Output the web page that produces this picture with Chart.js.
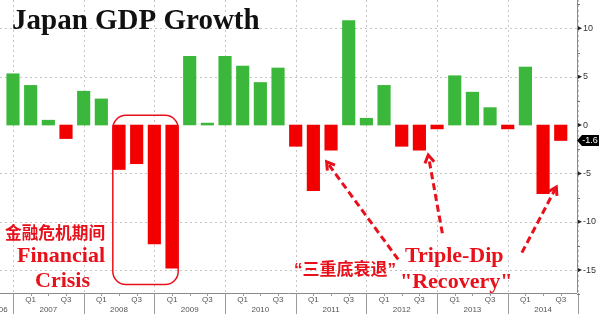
<!DOCTYPE html>
<html>
<head>
<meta charset="utf-8">
<script src="https://cdn.jsdelivr.net/npm/chart.js@4.4.1/dist/chart.umd.min.js"></script>
<style>
html, body { margin: 0; padding: 0; background: #fff; }
#wrap { width: 600px; height: 314px; position: relative; }
</style>
</head>
<body>
<div id="wrap"><canvas id="chart"></canvas></div>
<script>
// Japan real GDP, q/q annualised %, 2006 Q4 .. 2014 Q3
const quarterLabels = [
  '2006 Q4',
  '2007 Q1', '2007 Q2', '2007 Q3', '2007 Q4',
  '2008 Q1', '2008 Q2', '2008 Q3', '2008 Q4',
  '2009 Q1', '2009 Q2', '2009 Q3', '2009 Q4',
  '2010 Q1', '2010 Q2', '2010 Q3', '2010 Q4',
  '2011 Q1', '2011 Q2', '2011 Q3', '2011 Q4',
  '2012 Q1', '2012 Q2', '2012 Q3', '2012 Q4',
  '2013 Q1', '2013 Q2', '2013 Q3', '2013 Q4',
  '2014 Q1', '2014 Q2', '2014 Q3'
];
const gdpGrowth = [
  5.3,
  4.1, 0.5, -1.4, 3.5,
  2.7, -4.6, -4.0, -12.3,
  -14.8, 7.1, 0.2, 7.1,
  6.1, 4.4, 5.9, -2.2,
  -6.8, -2.6, 10.8, 0.7,
  4.1, -2.2, -2.6, -0.4,
  5.1, 3.4, 1.8, -0.4,
  6.0, -7.1, -1.6
];
const yearLabels = ['2006', '2007', '2008', '2009', '2010', '2011', '2012', '2013', '2014'];
const quarterTickLabels = ['Q1', 'Q3'];
const yTicks = [-15, -10, -5, 0, 5, 10];

const GREEN = '#3bb83b';
const RED = '#f20000';
const TXT_RED = '#e8101a';

const dataset = gdpGrowth.map((v, i) => ({ x: i, y: v }));

function dashedArrow(ctx, x0, y0, x1, y1) {
  ctx.save();
  ctx.strokeStyle = TXT_RED;
  ctx.lineWidth = 3;
  ctx.setLineDash([7, 4]);
  const ang = Math.atan2(y1 - y0, x1 - x0);
  ctx.beginPath();
  ctx.moveTo(x0, y0);
  ctx.lineTo(x1 - 3 * Math.cos(ang), y1 - 3 * Math.sin(ang));
  ctx.stroke();
  ctx.setLineDash([]);
  const h = 9;
  ctx.lineJoin = 'miter';
  ctx.beginPath();
  ctx.moveTo(x1 - h * Math.cos(ang - 0.55), y1 - h * Math.sin(ang - 0.55));
  ctx.lineTo(x1, y1);
  ctx.lineTo(x1 - h * Math.cos(ang + 0.55), y1 - h * Math.sin(ang + 0.55));
  ctx.stroke();
  ctx.restore();
}

//grid + axes + annotations
const decor = {
  id: 'decor',
  beforeDatasetsDraw(chart) {
    const { ctx, chartArea: a, scales: { x, y } } = chart;
    ctx.save();
    ctx.strokeStyle = '#c6c6c6';
    ctx.lineWidth = 1;
    ctx.setLineDash([2, 3]);
    for (let i = 0; i <= 32; i += 4) {
      const px = Math.round(x.getPixelForValue(i)) + 0.5;
      ctx.beginPath(); ctx.moveTo(px, a.top); ctx.lineTo(px, a.bottom); ctx.stroke();
    }
    yTicks.forEach(v => {
      if (v === 0) return;
      const py = Math.round(y.getPixelForValue(v)) + 0.5;
      ctx.beginPath(); ctx.moveTo(a.left, py); ctx.lineTo(a.right, py); ctx.stroke();
    });
    ctx.restore();
  },
  afterDraw(chart) {
    const { ctx, chartArea: a, scales: { x, y } } = chart;
    const H = chart.height;
    ctx.save();
    // axis lines
    ctx.strokeStyle = '#8a8a8a';
    ctx.lineWidth = 1;
    ctx.beginPath();
    ctx.moveTo(a.left, a.bottom + 0.5); ctx.lineTo(a.right, a.bottom + 0.5);
    ctx.moveTo(a.right + 0.5, a.top); ctx.lineTo(a.right + 0.5, a.bottom);
    ctx.stroke();

    // x ticks
    ctx.strokeStyle = '#9a9a9a';
    for (let i = -4; i <= 32; i++) {
      const px = Math.round(x.getPixelForValue(i)) + 0.5;
      if (px < a.left || px > a.right + 2) continue;
      ctx.beginPath();
      ctx.moveTo(px, a.bottom);
      ctx.lineTo(px, i % 4 === 0 ? H : a.bottom + 3);
      ctx.stroke();
    }
    ctx.fillStyle = '#555';
    ctx.font = '8px "Liberation Sans", Arial, sans-serif';
    ctx.textAlign = 'center';
    ctx.textBaseline = 'middle';
    for (let i = -4; i <= 32; i++) {
      const q = ((i % 4) + 4) % 4;
      if (q === 1 || q === 3) {
        const px = x.getPixelForValue(i);
        if (px < a.left) continue;
        ctx.fillText(quarterTickLabels[q === 1 ? 0 : 1], px, a.bottom + 7);
      }
    }
    yearLabels.forEach((yr, k) => {
      let idx = 4 * (k - 1) + 2;
      if (k === 0) idx = -0.8;
      ctx.fillText(yr, x.getPixelForValue(idx), a.bottom + 17);
    });

    // y tick markers
    ctx.fillStyle = '#222';
    yTicks.forEach(v => {
      const py = y.getPixelForValue(v);
      ctx.beginPath();
      ctx.moveTo(a.right + 1, py - 2);
      ctx.lineTo(a.right + 5, py);
      ctx.lineTo(a.right + 1, py + 2);
      ctx.closePath();
      ctx.fill();
    });
    ctx.strokeStyle = '#777';
    for (let v = -17.5; v <= 12.5; v += 5) {
      const py = Math.round(y.getPixelForValue(v)) + 0.5;
      ctx.beginPath(); ctx.moveTo(a.right, py); ctx.lineTo(a.right + 3, py); ctx.stroke();
    }

    // last value tag
    const last = gdpGrowth[gdpGrowth.length - 1];
    const ly = y.getPixelForValue(last);
    ctx.fillStyle = '#000';
    ctx.beginPath();
    ctx.moveTo(a.right, ly);
    ctx.lineTo(a.right + 5, ly - 5.5);
    ctx.lineTo(599, ly - 5.5);
    ctx.lineTo(599, ly + 5.5);
    ctx.lineTo(a.right + 5, ly + 5.5);
    ctx.closePath();
    ctx.fill();
    ctx.fillStyle = '#fff';
    ctx.font = '9px "Liberation Sans", Arial, sans-serif';
    ctx.textAlign = 'center';
    ctx.fillText(last.toFixed(1), 590, ly + 0.5);

    // title
    ctx.fillStyle = '#111';
    ctx.textAlign = 'left';
    ctx.textBaseline = 'alphabetic';
    ctx.font = 'bold 29px "Liberation Serif", "Times New Roman", serif';
    ctx.fillText('Japan GDP Growth', 12, 29);

    // crisis box
    const bx0 = x.getPixelForValue(5.65), bx1 = x.getPixelForValue(9.35);
    const by0 = y.getPixelForValue(1.0), by1 = y.getPixelForValue(-16.5);
    ctx.strokeStyle = TXT_RED;
    ctx.lineWidth = 1.5;
    ctx.beginPath();
    ctx.roundRect(bx0, by0, bx1 - bx0, by1 - by0, 13);
    ctx.stroke();

    // labels
    ctx.fillStyle = TXT_RED;
    ctx.font = 'bold 16.7px "Noto Sans CJK SC", sans-serif';
    ctx.textBaseline = 'middle';
    ctx.fillText('金融危机期间', 5, 233);
    ctx.font = 'bold 17px "Liberation Sans", "Noto Sans CJK SC", sans-serif';
    ctx.fillText('\u201c三重底衰退\u201d', 294, 270);
    ctx.textBaseline = 'alphabetic';
    ctx.font = 'bold 22px "Liberation Serif", "Times New Roman", serif';
    ctx.fillText('Financial', 17, 262);
    ctx.fillText('Crisis', 35, 287);
    ctx.fillText('Triple-Dip', 405, 262);
    ctx.fillText('"Recovery"', 400, 288);

    // arrows
    const arrows = [
      [21.8, -13.9, 17.75, -3.8],
      [24.3, -11.2, 23.5, -3.1],
      [28.8, -13.2, 30.75, -6.4]
    ];
    arrows.forEach(([i0, v0, i1, v1]) => {
      dashedArrow(ctx, x.getPixelForValue(i0), y.getPixelForValue(v0),
                  x.getPixelForValue(i1), y.getPixelForValue(v1));
    });
    ctx.restore();
  }
};

const config = {
  type: 'bar',
  data: {
    labels: quarterLabels,
    datasets: [{
      label: 'GDP q/q annualised',
      data: dataset,
      backgroundColor: gdpGrowth.map(v => v >= 0 ? GREEN : RED),
      borderWidth: 0,
      barThickness: 12.5
    }]
  },
  options: {
    responsive: true,
    maintainAspectRatio: false,
    animation: false,
    devicePixelRatio: 1,
    layout: { padding: 0 },
    plugins: { legend: { display: false }, tooltip: { enabled: false }, title: { display: false } },
    scales: {
      x: {
        type: 'linear',
        min: -0.735,
        max: 31.92,
        offset: false,
        grid: { display: false, drawTicks: false },
        border: { display: false },
        ticks: { display: false },
        afterFit(scale) { scale.height = 21; scale.paddingLeft = 0; scale.paddingRight = 0; }
      },
      y: {
        position: 'right',
        min: -17.37,
        max: 12.93,
        grid: { display: false, drawTicks: false },
        border: { display: false },
        ticks: {
          stepSize: 5,
          includeBounds: false,
          padding: 6,
          color: '#333',
          font: { family: '"Liberation Sans", Arial, sans-serif', size: 9 }
        },
        afterFit(scale) { scale.width = 23; scale.paddingTop = 0; scale.paddingBottom = 0; }
      }
    }
  },
  plugins: [decor]
};

const myChart = new Chart(document.getElementById('chart'), config);
</script>
</body>
</html>
